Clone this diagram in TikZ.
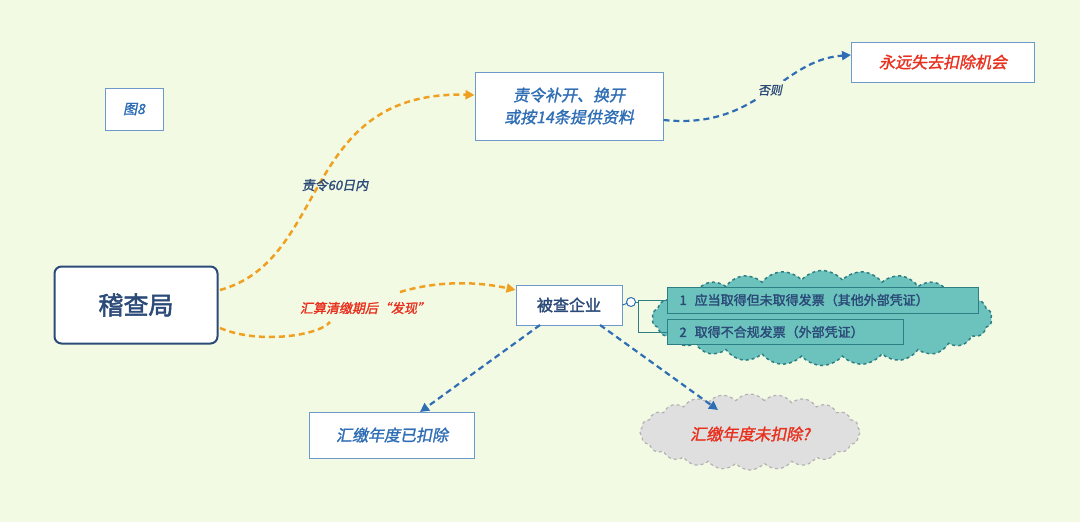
\documentclass[tikz,border=0pt]{standalone}
\usepackage{fontspec}
\setmainfont{Noto Sans CJK SC}
\newfontfamily\cjki{Noto Sans CJK SC}[FakeSlant=0.2,FakeBold=1.5]
\newfontfamily\cjkb{Noto Sans CJK SC}[FakeBold=2]
\usetikzlibrary{shapes.symbols,arrows.meta}
\definecolor{bg}{HTML}{F3FAE4}
\definecolor{bl}{HTML}{2F6EB5}
\definecolor{dk}{HTML}{2B4A78}
\definecolor{rd}{HTML}{E8301E}
\definecolor{og}{HTML}{F0A020}
\definecolor{tl}{HTML}{6CC3BE}
\definecolor{tb}{HTML}{2E7F84}
\tikzset{
 box/.style={draw=bl!70,fill=white,line width=1pt,inner sep=0pt},
 oarr/.style={draw=og,dash pattern=on 6pt off 4pt,line width=2.5pt,-{Triangle[length=9pt,width=9pt]}},
 oline/.style={draw=og,dash pattern=on 6pt off 4pt,line width=2.5pt},
 barr/.style={draw=bl,dash pattern=on 6pt off 4pt,line width=2.2pt,-{Triangle[length=9pt,width=9pt]}},
 item/.style={draw=tb,line width=1pt,fill=tl,inner sep=0pt,anchor=west,font=\cjkb\fontsize{13}{15}\selectfont,text=dk,align=left}
}
\begin{document}
\begin{tikzpicture}[x=1pt,y=-1pt]
\fill[bg] (0,0) rectangle (1080,522);
\useasboundingbox (0,0) rectangle (1080,522);
% cloud
\node[cloud,cloud puffs=26,cloud puff arc=100,aspect=3.6,draw=tb,dashed,line width=1.5pt,fill=tl,minimum width=340pt,minimum height=95pt] (cl) at (822,318) {};
\node[cloud,cloud puffs=24,cloud puff arc=100,aspect=3,draw=gray!60,dashed,line width=1.2pt,fill=gray!25,minimum width=220pt,minimum height=76pt] (gc) at (750,432) {};
% nodes
\node[draw=dk,line width=2pt,rounded corners=7pt,fill=white,minimum width=163pt,minimum height=77pt,font=\cjkb\fontsize{25}{28}\selectfont,text=dk] (jc) at (136,305) {稽查局};
\node[box,minimum width=58pt,minimum height=42pt,font=\cjki\fontsize{14}{16}\selectfont,text=bl] (t8) at (134,109) {图8};
\node[box,minimum width=188pt,minimum height=68pt,align=center,font=\cjki\fontsize{16}{22}\selectfont,text=bl] (zl) at (569,106) {责令补开、换开\\或按14条提供资料};
\node[box,minimum width=183pt,minimum height=40pt,font=\cjki\fontsize{16}{18}\selectfont,text=rd] (yy) at (943,62) {永远失去扣除机会};
\node[box,minimum width=106pt,minimum height=40pt,font=\cjkb\fontsize{16}{18}\selectfont,text=dk] (bc) at (569,305) {被查企业};
\node[box,minimum width=165pt,minimum height=46pt,font=\cjki\fontsize{16}{18}\selectfont,text=bl] (yk) at (392,435) {汇缴年度已扣除};
\node[font=\cjki\fontsize{16}{18}\selectfont,text=rd] (wk) at (750,434) {汇缴年度未扣除?};
\node[item,minimum width=311pt,text width=311pt,minimum height=26pt] (i1) at (667,300) {\hspace{12pt}1\hspace{8pt}应当取得但未取得发票（其他外部凭证）};
\node[item,minimum width=236pt,text width=236pt,minimum height=25pt] (i2) at (667,332) {\hspace{12pt}2\hspace{8pt}取得不合规发票（外部凭证）};
\coordinate (c0) at (631,302);
\draw[bl,line width=1pt] (bc.east) -- (c0);
\draw[tb,line width=1pt] (c0) -- (638,302) |- (i1.west);
\draw[tb,line width=1pt] (638,302) |- (i2.west);
\draw[bl,fill=white,line width=1pt] (c0) circle (4.5pt);
% connectors
\coordinate (j1) at (220,290);
\coordinate (j2) at (220,328);
\draw[oarr] (j1) .. controls (330,260) and (300,90) .. (zl.west |- 0,95);
\node[font=\cjki\fontsize{13}{15}\selectfont,text=dk] (l1) at (335,185) {责令60日内};
\draw[oline] (j2) .. controls (260,345) and (320,335) .. (330,322);
\draw[oarr] (400,292) .. controls (440,280) and (480,282) .. (bc.west |- 0,290);
\node[font=\cjki\fontsize{13}{15}\selectfont,text=rd] (l2) at (365,308) {汇算清缴期后“发现”};
\draw[barr] (zl.east |- 0,120) .. controls (760,130) and (780,60) .. (yy.west |- 0,55);
\node[fill=bg,font=\cjki\fontsize{12}{14}\selectfont,text=dk] (l3) at (770,90) {否则};
\draw[barr] (540,325) -- (420,412);
\draw[barr] (600,325) -- (718,410);
\end{tikzpicture}
\end{document}
